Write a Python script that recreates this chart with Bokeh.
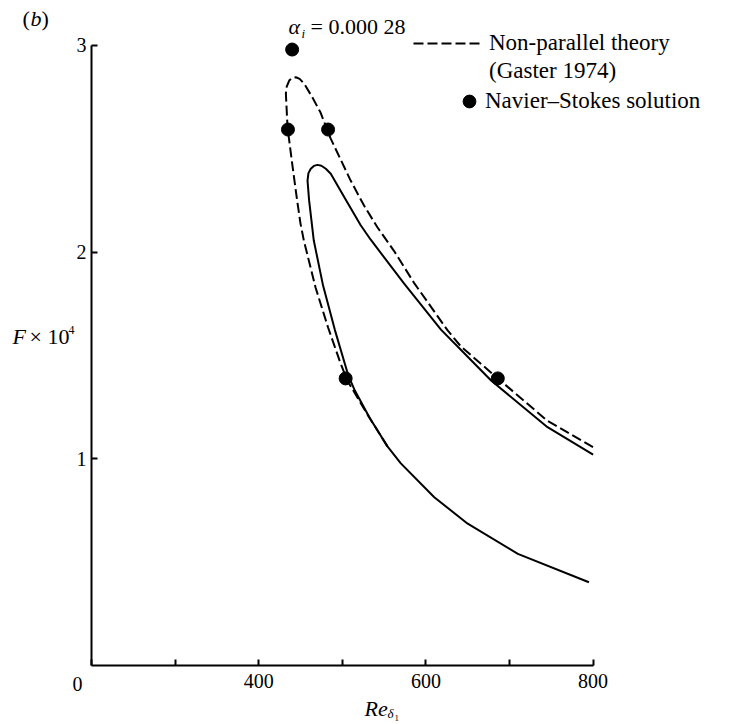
from bokeh.plotting import figure
from bokeh.models import Range1d, FixedTicker, Label, Legend, LegendItem, LinearAxis
from bokeh.embed import file_html
from bokeh.resources import INLINE

# ---------------- data ----------------
x_ticks = [200, 300, 400, 500, 600, 700, 800]
x_tick_labels = {200: "", 300: "", 400: "400", 500: "", 600: "600", 700: "", 800: "800"}
y_ticks = [1, 2, 3]

# Non-parallel theory (Gaster 1974), dashed neutral curve
gaster_re = [554, 530, 506, 498, 483, 468, 454, 450, 446, 440, 434.5, 432.5,
             433.5, 436.5, 440, 444.5, 449, 454.5, 464, 474, 486, 510, 526,
             542, 562, 586, 626, 642, 686, 745, 800]
gaster_f = [1.06, 1.215, 1.379, 1.461, 1.635, 1.829, 2.056, 2.138, 2.249, 2.429,
            2.603, 2.767, 2.80, 2.83, 2.843, 2.846, 2.838, 2.814, 2.75, 2.675,
            2.55, 2.346, 2.225, 2.12, 2.005, 1.85, 1.621, 1.543, 1.389, 1.185, 1.056]

# Parallel theory, solid neutral curve
parallel_re = [795, 710, 650, 610, 570, 554, 533, 515, 507, 491, 477, 465.9,
               460.3, 458.4, 459.5, 462.3, 466, 470.3, 475, 480.3, 486.2,
               504, 522, 534, 574, 618, 645, 678, 745.5, 800]
parallel_f = [0.403, 0.540, 0.686, 0.814, 0.978, 1.060, 1.196, 1.330, 1.405, 1.625,
              1.838, 2.056, 2.250, 2.346, 2.382, 2.403, 2.417, 2.422, 2.418,
              2.403, 2.379, 2.254, 2.13, 2.06, 1.847, 1.625, 1.514, 1.379, 1.153, 1.02]

# Navier-Stokes solution points
ns_re = [440, 435, 483, 504, 686]
ns_f = [2.98, 2.593, 2.593, 1.389, 1.389]

# ---------------- layout ----------------
W, H = 729, 724
AX_X_PX, AX_Y_PX = 91, 665          # pixel position of the two axis lines
PX_PER_RE = 0.836
PX_PER_F = 206.7
X0 = 200 - AX_X_PX / PX_PER_RE
X1 = 200 + (W - AX_X_PX) / PX_PER_RE
Y1 = AX_Y_PX / PX_PER_F
Y0 = -(H - AX_Y_PX) / PX_PER_F
SERIF = "Liberation Serif"


def dx(px):
    return X0 + px / PX_PER_RE


def dy(py):
    return Y1 - py / PX_PER_F


p = figure(width=W, height=H, x_range=Range1d(X0, X1), y_range=Range1d(Y0, Y1),
           x_axis_location=None, y_axis_location=None, min_border=0,
           toolbar_location=None, output_backend="svg", outline_line_color=None,
           background_fill_color="white", border_fill_color="white")
p.xgrid.visible = False
p.ygrid.visible = False

xaxis = LinearAxis(fixed_location=0, bounds=(200, 800),
                   ticker=FixedTicker(ticks=x_ticks),
                   major_label_overrides=x_tick_labels, major_label_standoff=8)
yaxis = LinearAxis(fixed_location=200, bounds=(0, 3),
                   ticker=FixedTicker(ticks=y_ticks), major_label_standoff=5)
for ax in (xaxis, yaxis):
    ax.axis_line_width = 2
    ax.axis_line_color = "black"
    ax.major_tick_in = 6
    ax.major_tick_out = 0
    ax.major_tick_line_width = 2
    ax.major_tick_line_color = "black"
    ax.minor_tick_line_color = None
    ax.major_label_text_font = SERIF
    ax.major_label_text_font_size = "20px"
    ax.major_label_text_color = "black"
p.add_layout(xaxis, "below")
p.add_layout(yaxis, "left")

r_gaster = p.line(gaster_re, gaster_f, line_color="black", line_width=2,
                  line_dash="10 4", line_join="round")
r_par = p.line(parallel_re, parallel_f, line_color="black", line_width=2,
               line_join="round")
r_ns = p.scatter(ns_re, ns_f, marker="circle", size=13,
                 fill_color="black", line_color="black")
r_blank = p.line([], [], line_alpha=0)

leg_style = dict(padding=0, margin=0, spacing=0, border_line_color=None,
                 background_fill_alpha=0, label_text_font=SERIF,
                 label_text_font_size="23px", label_text_color="black")
legend_a = Legend(items=[LegendItem(label="Non-parallel theory", renderers=[r_gaster]),
                         LegendItem(label="(Gaster 1974)", renderers=[r_blank])],
                  location=(413, H - 85), glyph_width=70,
                  glyph_height=28, label_standoff=6, **leg_style)
legend_b = Legend(items=[LegendItem(label="Navier–Stokes solution", renderers=[r_ns])],
                  location=(453, H - 117), glyph_width=32,
                  glyph_height=32, label_standoff=-8, **leg_style)
p.add_layout(legend_a)
p.add_layout(legend_b)


def lab(text, px, py, size="22px", style="normal", align="left"):
    p.add_layout(Label(x=dx(px), y=dy(py), text=text, text_font=SERIF,
                       text_font_size=size, text_font_style=style,
                       text_align=align, text_baseline="middle",
                       text_color="black"))


lab("(", 22, 18)
lab("b", 30, 18, style="italic")
lab(")", 41, 18)
lab("α", 288, 26, style="italic")
lab("i", 301, 33, size="13px", style="italic")
lab("= 0.000 28", 310, 26)
lab("F", 12, 336, style="italic")
lab("× 10", 29, 336)
lab("4", 68, 329, size="12px")
lab("0", 77, 683, size="20px", align="center")
lab("Re", 364, 708, style="italic")
lab("δ", 387, 713, size="13px", style="italic")
lab("1", 394, 717, size="9px")

open("out.html", "w").write(file_html(p, INLINE))
